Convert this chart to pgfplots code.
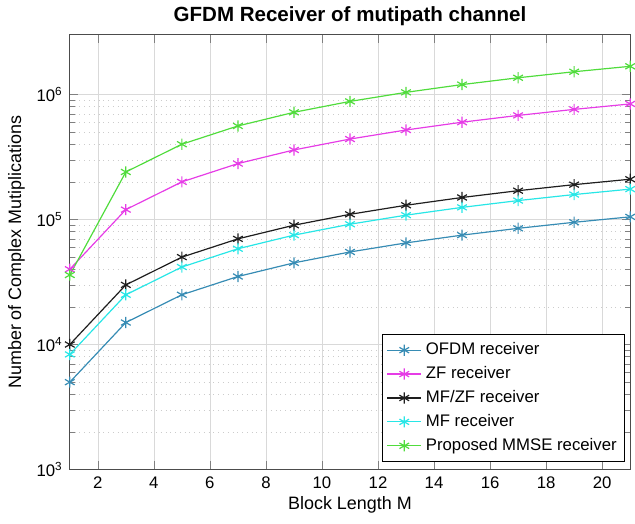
\documentclass[border=0pt]{standalone}
\usepackage{pgfplots}
\pgfplotsset{compat=1.18}
\usepackage{fontspec}
\setmainfont{Liberation Sans}
\definecolor{cofdm}{RGB}{55,140,180}
\definecolor{czf}{RGB}{230,60,230}
\definecolor{cmfzf}{RGB}{30,30,30}
\definecolor{cmf}{RGB}{40,230,230}
\definecolor{cmmse}{RGB}{80,220,60}
\begin{document}
\begin{tikzpicture}
\begin{axis}[
  at={(0,0)}, anchor=south west,
  scale only axis, width=281pt, height=218pt,
  ymode=log, xmin=1, xmax=21, ymin=1e3, ymax=3.0e6,
  xtick={2,4,...,20},
  ytick={1e3,1e4,1e5,1e6},
  yticklabels={10\textsuperscript{3},10\textsuperscript{4},10\textsuperscript{5},10\textsuperscript{6}},
  tick align=inside,
  font=\fontsize{8.4}{10}\selectfont,
  ticklabel style={font=\fontsize{8.4}{10}\selectfont},
  /pgf/number format/assume math mode=true,
  grid=both,
  major grid style={gray!30, line width=0.3pt},
  minor grid style={gray!40, dotted, line width=0.3pt},
  minor x tick num=0,
  axis line style={black!70},
  title={\bfseries GFDM Receiver of mutipath channel},
  title style={font=\fontsize{10.3}{12}\selectfont\bfseries, yshift=-5pt},
  xlabel={Block Length M},
  ylabel={Number of Complex Mutiplications},
  label style={font=\fontsize{9}{10.8}\selectfont},
  xlabel style={yshift=3pt},
  ylabel style={yshift=-1pt},
  legend style={at={(0.991,0.018)}, anchor=south east, draw=black, font=\fontsize{8.4}{10}\selectfont, row sep=0.4pt, inner sep=2pt},
  legend cell align=left,
  every axis plot/.append style={line width=0.6pt, mark=asterisk, mark size=2.8pt},
]
\addplot[color=cofdm] coordinates {(1,5000)(3,15000)(5,25000)(7,35000)(9,45000)(11,55000)(13,65000)(15,75000)(17,85000)(19,95000)(21,105000)};
\addlegendentry{OFDM receiver}
\addplot[color=czf] coordinates {(1,40000)(3,120000)(5,200000)(7,280000)(9,360000)(11,440000)(13,520000)(15,600000)(17,680000)(19,760000)(21,840000)};
\addlegendentry{ZF receiver}
\addplot[color=cmfzf] coordinates {(1,10000)(3,30000)(5,50000)(7,70000)(9,90000)(11,110000)(13,130000)(15,150000)(17,170000)(19,190000)(21,210000)};
\addlegendentry{MF/ZF receiver}
\addplot[color=cmf] coordinates {(1,8333)(3,25000)(5,41667)(7,58333)(9,75000)(11,91667)(13,108333)(15,125000)(17,141667)(19,158333)(21,175000)};
\addlegendentry{MF receiver}
\addplot[color=cmmse] coordinates {(1,36000)(3,240000)(5,400000)(7,560000)(9,720000)(11,880000)(13,1040000)(15,1200000)(17,1360000)(19,1520000)(21,1680000)};
\addlegendentry{Proposed MMSE receiver}
\end{axis}
\useasboundingbox (-35pt,-27pt) rectangle (282.5pt,235pt);
\end{tikzpicture}
\end{document}
